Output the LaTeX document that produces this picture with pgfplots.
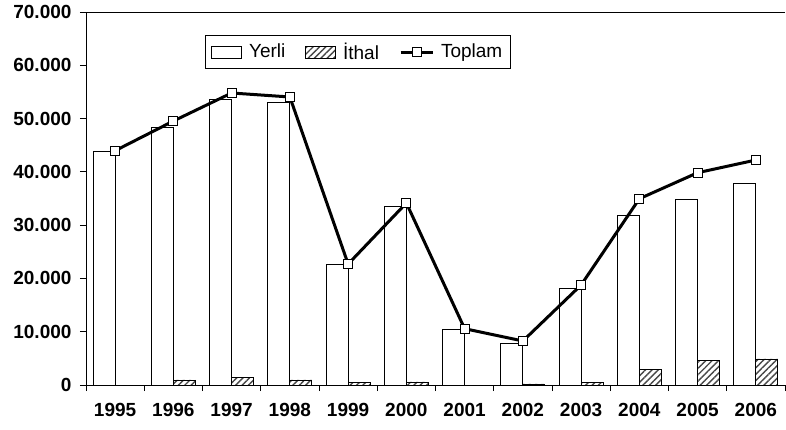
\documentclass[border=0pt]{standalone}
\usepackage{pgfplots}
\pgfplotsset{compat=1.18}
\usepackage{fontspec}
\setmainfont{Liberation Sans}
\usetikzlibrary{patterns.meta}
\pgfplotsset{
  barlegend/.style={legend image code/.code={\draw[##1] (0bp,-6bp) rectangle (30bp,6bp);}},
  linelegend/.style={legend image code/.code={\draw[##1, mark repeat=2, mark phase=2] plot coordinates {(0bp,0bp) (16bp,0bp) (32bp,0bp)};}},
}
\begin{document}
\fontsize{19bp}{22bp}\selectfont
\begin{tikzpicture}
\begin{axis}[
  scale only axis, width=699bp, height=373bp,
  xmin=-0.5, xmax=11.5, ymin=0, ymax=70000,
  axis x line*=bottom, axis y line*=left,
  axis line style={-, line width=0.9bp},
  xtick={0,...,11},
  xticklabels={1995,1996,1997,1998,1999,2000,2001,2002,2003,2004,2005,2006},
  minor xtick={-0.5,0.5,...,11.5},
  major x tick style={draw=none},
  tick align=outside, major tick length=6bp, minor tick length=6bp,
  tick style={line width=0.9bp, black},
  ytick={0,10000,...,70000},
  scaled y ticks=false,
  yticklabel style={/pgf/number format/fixed, /pgf/number format/1000 sep={.}, /pgf/number format/assume math mode=true, xshift=-2bp},
  xticklabel style={yshift=-6bp},
  tick label style={font=\fontsize{19bp}{22bp}\selectfont\bfseries},
  legend style={at={(axis description cs:0.170,0.938)}, anchor=north west,
    draw=black, line width=0.9bp, inner xsep=6bp, inner ysep=5bp,
    font=\fontsize{19bp}{22bp}\selectfont,
    /tikz/every odd column/.append style={column sep=5bp},
    /tikz/every even column/.append style={column sep=18bp}},
  legend columns=3,
]
\addplot[ybar, bar width=22bp, bar shift=-11bp, fill=white, draw=black, line width=0.8bp, barlegend]
  coordinates {(0,43840) (1,48340) (2,53540) (3,53040) (4,22580) (5,33520) (6,10510) (7,7880) (8,18070) (9,31770) (10,34900) (11,37910)};
\addlegendentry{Yerli}
\addplot[ybar, bar width=22bp, bar shift=11bp, pattern={Lines[angle=45, distance=4.5bp, line width=1.4bp]}, pattern color=black!72, draw=black, line width=0.8bp, barlegend]
  coordinates {(0,0) (1,940) (2,1500) (3,950) (4,430) (5,580) (6,0) (7,200) (8,560) (9,2870) (10,4690) (11,4880)};
\addlegendentry{İthal}
\addplot[black, line width=3bp, mark=square*, mark size=4.5bp, mark options={fill=white, draw=black, line width=0.8bp}, linelegend]
  coordinates {(0,43970) (1,49540) (2,54800) (3,54050) (4,22700) (5,34150) (6,10570) (7,8260) (8,18770) (9,34960) (10,39840) (11,42220)};
\addlegendentry{Toplam}
\draw[line width=0.9bp] (rel axis cs:0,1) -- (rel axis cs:1,1);
\end{axis}
\pgfresetboundingbox
\path ([xshift=-86bp,yshift=-45bp]current axis.south west) rectangle ([xshift=1bp,yshift=12bp]current axis.north east);
\end{tikzpicture}
\end{document}
